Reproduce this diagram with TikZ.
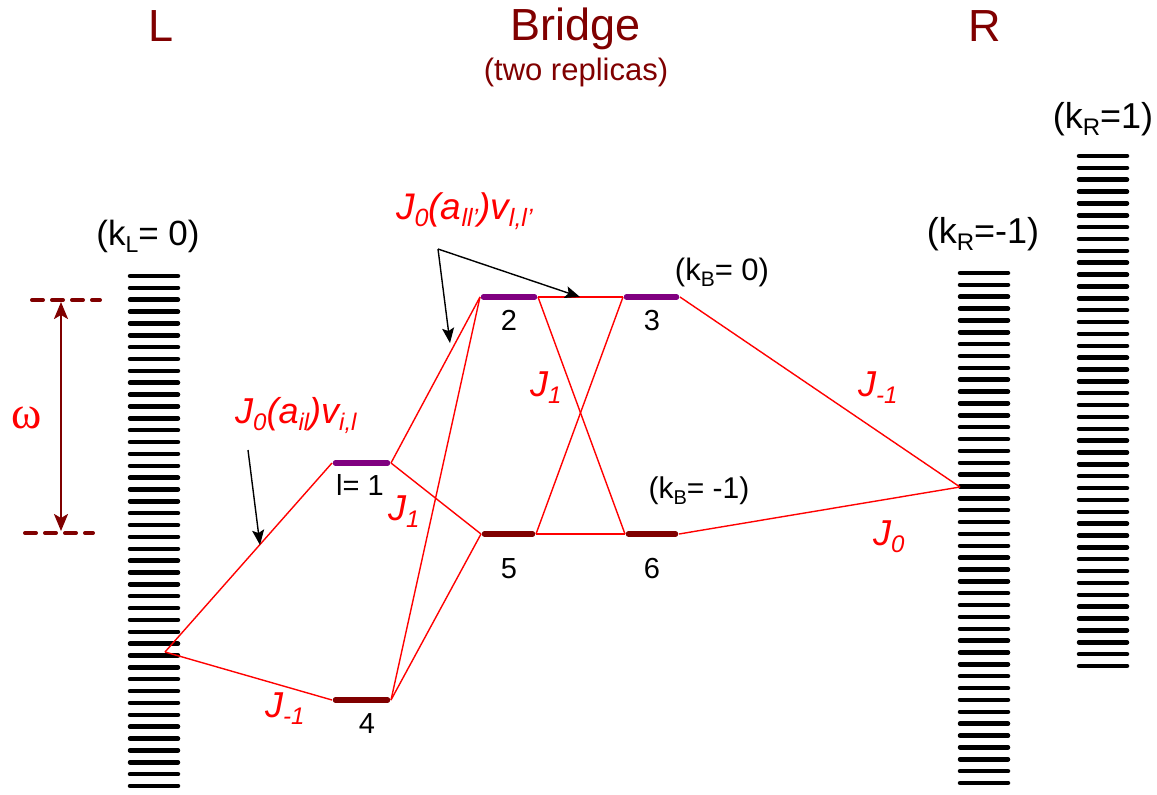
\documentclass[tikz,border=0pt]{standalone}
\usepackage{fontspec}
\setmainfont{Liberation Sans}
\newfontfamily\omegafont{Liberation Serif}
\usetikzlibrary{arrows.meta}
\definecolor{dred}{RGB}{128,0,0}
\definecolor{purp}{RGB}{128,0,128}
\definecolor{jred}{RGB}{255,0,0}
\newcommand\lowx[2][19]{\raisebox{-0.2em}{\fontsize{#1}{#1}\selectfont #2}}
\begin{document}
\begin{tikzpicture}[x=1pt,y=-1pt,
  rung/.style={line width=4.5pt,line cap=round,black},
  lvlp/.style={line width=5.5pt,line cap=round,purp,shorten >=3.5pt,shorten <=3.5pt},
  lvlr/.style={line width=5.5pt,line cap=round,dred,shorten >=3.5pt,shorten <=3.5pt},
  coup/.style={jred,line width=1.4pt},
  pointer/.style={black,line width=1.4pt,-{Stealth[length=15pt,width=12pt,inset=3pt]}},
  lab/.style={font=\fontsize{29}{30}\selectfont,inner sep=0pt,anchor=base},
  jlab/.style={font=\fontsize{36}{38}\selectfont\itshape,text=jred,inner sep=0pt,anchor=base west},
  head/.style={font=\fontsize{45}{50}\selectfont,text=dred,inner sep=0pt,anchor=base},
]
\useasboundingbox (0,0) rectangle (1157,795);

% headings
\node[head] (hL) at (161,41) {L};
\node[head] (hB) at (576,40) {Bridge};
\node[head] (hR) at (985,41) {R};
\node[font=\fontsize{31}{32}\selectfont,text=dred,inner sep=0pt,anchor=base] (hB2) at (576,80) {(two replicas)};

% ladders
\foreach \i in {0,...,43} {
  \draw[rung] (130,{276+\i*11.86}) -- (178,{276+\i*11.86});
  \draw[rung] (960,{273+\i*11.86}) -- (1008,{273+\i*11.86});
  \draw[rung] (1079,{156+\i*11.86}) -- (1127,{156+\i*11.86});
}
\node[lab,font=\fontsize{35}{36}\selectfont] (kL) at (148,245) {(k\lowx[23]{L}= 0)};
\node[lab,font=\fontsize{36}{37}\selectfont] (kRm) at (983,243) {(k\lowx[24]{R}=-1)};
\node[lab,font=\fontsize{36}{37}\selectfont] (kRp) at (1103,128) {(k\lowx[24]{R}=1)};

% omega
\draw[dred,line width=4pt,line cap=round,dash pattern=on 11pt off 9pt] (32,300) -- (100,300);
\draw[dred,line width=4pt,line cap=round,dash pattern=on 11pt off 9pt] (25,533) -- (93,533);
\draw[dred,line width=2.5pt,{Stealth[length=17pt,width=14pt,inset=4pt]}-{Stealth[length=17pt,width=14pt,inset=4pt]}] (61,302) -- (61,531);
\node[font=\fontsize{46}{46}\selectfont\omegafont,text=jred,inner sep=0pt,anchor=base] (om) at (27,428) {ω};

% level coordinates
\coordinate (Lp) at (165,652);
\coordinate (Rp) at (960,487);
\coordinate (l1w) at (332,463); \coordinate (l1e) at (391,463);
\coordinate (l4w) at (332,700); \coordinate (l4e) at (391,700);
\coordinate (l2w) at (480,297); \coordinate (l2e) at (538,297);
\coordinate (l3w) at (623,297); \coordinate (l3e) at (680,297);
\coordinate (l5w) at (481,534); \coordinate (l5e) at (536,534);
\coordinate (l6w) at (625,534); \coordinate (l6e) at (679,534);

% levels
\draw[lvlp] (l1w) -- (l1e);
\draw[lvlr] (l4w) -- (l4e);
\draw[lvlp] (l2w) -- (l2e);
\draw[lvlp] (l3w) -- (l3e);
\draw[lvlr] (l5w) -- (l5e);
\draw[lvlr] (l6w) -- (l6e);

% couplings
\draw[coup] (Lp) -- (l1w);
\draw[coup] (Lp) -- (l4w);
\draw[coup] (l1e) -- (l2w);
\draw[coup] (l1e) -- (l5w);
\draw[coup] (l4e) -- (l2w);
\draw[coup] (l4e) -- (l5w);
\draw[coup] (l2e) -- (l3w);
\draw[coup] (l2e) -- (l6w);
\draw[coup] (l3w) -- (l5e);
\draw[coup] (l5e) -- (l6w);
\draw[coup] (l3e) -- (Rp);
\draw[coup] (l6e) -- (Rp);

% level labels
\node[lab] (t1) at (360,495) {l= 1};
\node[lab] (t4) at (367,733) {4};
\node[lab] (t2) at (509,330) {2};
\node[lab] (t3) at (652,330) {3};
\node[lab] (t5) at (509,578) {5};
\node[lab] (t6) at (652,578) {6};
\node[lab,font=\fontsize{31}{32}\selectfont] (kB0) at (722,280) {(k\lowx[21]{B}= 0)};
\node[lab,font=\fontsize{30}{32}\selectfont] (kB1) at (699,498) {(k\lowx[20]{B}= -1)};

% coupling labels
\node[jlab] (jA) at (235,423) {J\lowx[24]{0}(a\lowx[24]{il})v\lowx[24]{i,l}};
\node[jlab,font=\fontsize{37}{38}\selectfont\itshape] (jB) at (396,219) {J\lowx[25]{0}(a\lowx[25]{ll'})v\lowx[25]{l,l'}};
\node[jlab] (j1a) at (388,520) {J\lowx[24]{1}};
\node[jlab] (j1b) at (530,396) {J\lowx[24]{1}};
\node[jlab] (jm1a) at (265,717) {J\lowx[24]{-1}};
\node[jlab] (jm1b) at (858,396) {J\lowx[24]{-1}};
\node[jlab] (j0) at (873,545) {J\lowx[24]{0}};

% pointers
\coordinate (pa) at (438,249);
\coordinate (pb) at (450,343);
\coordinate (pc) at (580,297);
\coordinate (pd) at (248,450);
\coordinate (pe) at (260,545);
\draw[pointer] (pa) -- (pb);
\draw[pointer] (pa) -- (pc);
\draw[pointer] (pd) -- (pe);
\end{tikzpicture}
\end{document}
